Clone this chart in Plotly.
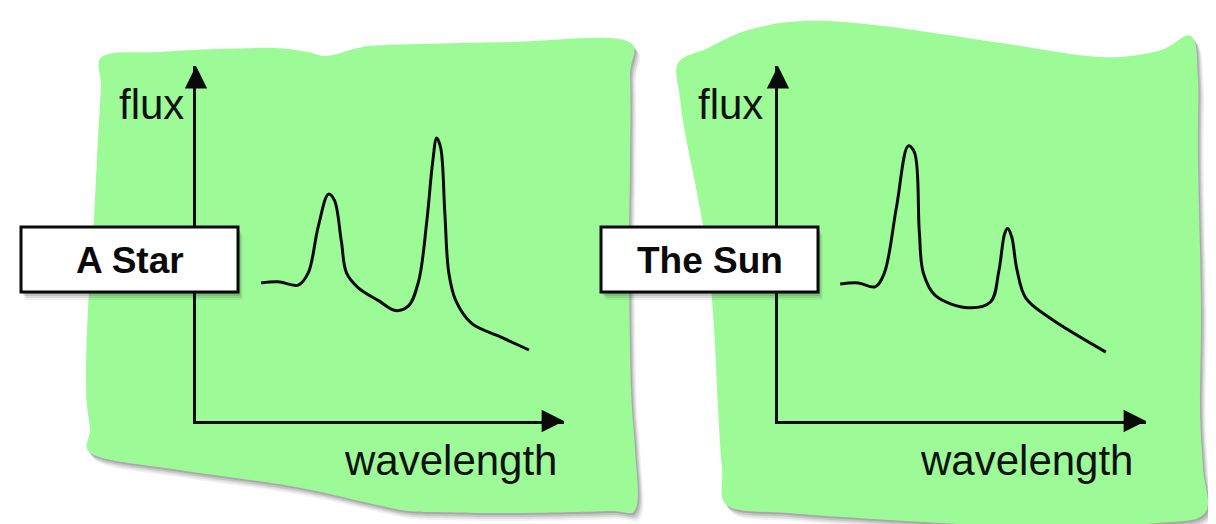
import plotly.graph_objects as go

W, H = 1216, 524

# ---------------- data ----------------
star_wavelength = [1.77, 2.23, 2.78, 3.05, 3.32, 3.60, 3.76, 3.95, 4.09, 4.41, 4.96, 5.42,
                   5.78, 6.05, 6.27, 6.43, 6.54, 6.65, 6.76, 6.87, 7.06, 7.49, 8.23, 9.05]
star_flux = [3.89, 3.92, 3.83, 4.17, 5.47, 6.39, 6.22, 5.06, 4.17, 3.75, 3.39, 3.11,
             3.25, 3.94, 5.61, 7.28, 7.97, 7.69, 5.89, 4.17, 3.39, 2.75, 2.39, 2.00]

sun_wavelength = [1.69, 2.18, 2.64, 2.89, 3.22, 3.54, 3.71, 3.84, 3.95, 4.28, 5.18, 5.78,
                  6.00, 6.16, 6.24, 6.35, 6.49, 6.73, 7.36, 8.91]
sun_flux = [3.86, 3.89, 3.78, 4.17, 6.03, 7.75, 7.56, 5.33, 4.17, 3.53, 3.19, 3.36,
            4.22, 5.28, 5.42, 5.19, 4.28, 3.47, 2.92, 1.94]

panel_titles = ["A Star", "The Sun"]
x_label = "wavelength"
y_label = "flux"
axis_max = 10

# ---------------- layout helpers ----------------
FONT = "Liberation Sans, Arial, Helvetica, sans-serif"
GREEN = "#9dfb97"
INK = "#0a0a0a"


def px(x):
    return x / W


def py(y):
    return 1 - y / H


def smooth_path(pts):
    n = len(pts)
    d = "M{:.5f},{:.5f}".format(px(pts[0][0]), py(pts[0][1]))
    for i in range(n):
        p0 = pts[(i - 1) % n]
        p1 = pts[i]
        p2 = pts[(i + 1) % n]
        p3 = pts[(i + 2) % n]
        c1 = (p1[0] + (p2[0] - p0[0]) / 6, p1[1] + (p2[1] - p0[1]) / 6)
        c2 = (p2[0] - (p3[0] - p1[0]) / 6, p2[1] - (p3[1] - p1[1]) / 6)
        d += " C{:.5f},{:.5f} {:.5f},{:.5f} {:.5f},{:.5f}".format(
            px(c1[0]), py(c1[1]), px(c2[0]), py(c2[1]), px(p2[0]), py(p2[1]))
    return d + " Z"


left_panel = [(95, 48), (150, 44), (208, 41), (267, 40), (300, 44), (319, 48), (350, 40),
              (378, 37), (500, 34), (616, 32), (622, 70), (622, 160), (621, 250),
              (623, 380), (627, 440), (628, 500), (600, 503), (504, 505), (420, 504),
              (393, 502), (356, 494), (282, 478), (171, 462), (86, 447), (82, 420),
              (78, 380), (80, 300), (86, 210), (90, 130), (93, 80)]
right_panel = [(670, 55), (700, 40), (740, 22), (796, 13), (875, 18), (993, 35),
               (1091, 49), (1150, 43), (1183, 28), (1190, 70), (1190, 150),
               (1193, 300), (1192, 400), (1195, 460), (1197, 505), (1150, 515),
               (1040, 520), (950, 516), (850, 510), (780, 505), (720, 498), (714, 460),
               (710, 400), (706, 320), (700, 250), (690, 190), (678, 130), (672, 90)]

shapes = []
for poly in (left_panel, right_panel):
    for off, a in ((8, 0.07), (6, 0.10), (4, 0.14), (2, 0.18)):
        shifted = [(x + off * 0.7, y + off) for x, y in poly]
        shapes.append(dict(type="path", xref="paper", yref="paper", layer="below",
                           path=smooth_path(shifted), fillcolor="rgba(50,50,50,%.2f)" % a,
                           line=dict(width=0)))
    shapes.append(dict(type="path", xref="paper", yref="paper", layer="below",
                       path=smooth_path(poly), fillcolor=GREEN, line=dict(width=0)))

boxes = [(13, 219, 230, 284), (593, 219, 810, 284)]
for (x0, y0, x1, y1) in boxes:
    for off, a in ((8, 0.07), (6, 0.10), (4, 0.14), (2, 0.18)):
        shapes.append(dict(type="rect", xref="paper", yref="paper", layer="above",
                           x0=px(x0 + off * 0.6), x1=px(x1 + off * 0.6),
                           y0=py(y0 + off), y1=py(y1 + off),
                           fillcolor="rgba(40,40,40,%.2f)" % a, line=dict(width=0)))
    shapes.append(dict(type="rect", xref="paper", yref="paper", layer="above",
                       x0=px(x0), x1=px(x1), y0=py(y0), y1=py(y1),
                       fillcolor="white", line=dict(color=INK, width=3)))

fig = go.Figure()
fig.add_trace(go.Scatter(x=star_wavelength, y=star_flux, mode="lines",
                         line=dict(color=INK, width=3, shape="spline", smoothing=1.0),
                         xaxis="x", yaxis="y", hoverinfo="skip", showlegend=False))
fig.add_trace(go.Scatter(x=sun_wavelength, y=sun_flux, mode="lines",
                         line=dict(color=INK, width=3, shape="spline", smoothing=1.0),
                         xaxis="x2", yaxis="y2", hoverinfo="skip", showlegend=False))

ax_common = dict(range=[0, axis_max], showline=True, linewidth=2.8, linecolor=INK,
                 showticklabels=False, ticks="", showgrid=False, zeroline=False,
                 fixedrange=True)
ydom = [py(413), py(58)]

annotations = []
for i in range(2):
    xr = "x" if i == 0 else "x2"
    yr = "y" if i == 0 else "y2"
    annotations.append(dict(x=axis_max, y=0, xref=xr, yref=yr, ax=-18, ay=0, text="",
                            showarrow=True, arrowhead=2, arrowsize=1.6, arrowwidth=2.8,
                            arrowcolor=INK))
    annotations.append(dict(x=0, y=axis_max, xref=xr, yref=yr, ax=0, ay=18, text="",
                            showarrow=True, arrowhead=2, arrowsize=1.6, arrowwidth=2.8,
                            arrowcolor=INK))

label_pos = [((143, 97), (442, 452)), ((722, 97), (1019, 452))]
for (fx, fy), (wx, wy) in label_pos:
    annotations.append(dict(x=px(fx), y=py(fy), xref="paper", yref="paper", text=y_label,
                            showarrow=False, xanchor="center", yanchor="middle",
                            font=dict(family=FONT, size=42, color="#111111")))
    annotations.append(dict(x=px(wx), y=py(wy), xref="paper", yref="paper", text=x_label,
                            showarrow=False, xanchor="center", yanchor="middle",
                            font=dict(family=FONT, size=42, color="#111111")))

for (x0, y0, x1, y1), t in zip(boxes, panel_titles):
    annotations.append(dict(x=px((x0 + x1) / 2), y=py((y0 + y1) / 2 + 1), xref="paper",
                            yref="paper", text="<b>%s</b>" % t, showarrow=False,
                            xanchor="center", yanchor="middle",
                            font=dict(family=FONT, size=37, color=INK)))

fig.update_layout(
    width=W, height=H,
    margin=dict(l=0, r=0, t=0, b=0),
    paper_bgcolor="white", plot_bgcolor="rgba(0,0,0,0)",
    xaxis=dict(domain=[px(188), px(556)], anchor="y", **ax_common),
    yaxis=dict(domain=ydom, anchor="x", **ax_common),
    xaxis2=dict(domain=[px(770), px(1138)], anchor="y2", **ax_common),
    yaxis2=dict(domain=ydom, anchor="x2", **ax_common),
    shapes=shapes, annotations=annotations, showlegend=False,
)

fig.write_html("out.html", config=dict(displayModeBar=False, staticPlot=True))
